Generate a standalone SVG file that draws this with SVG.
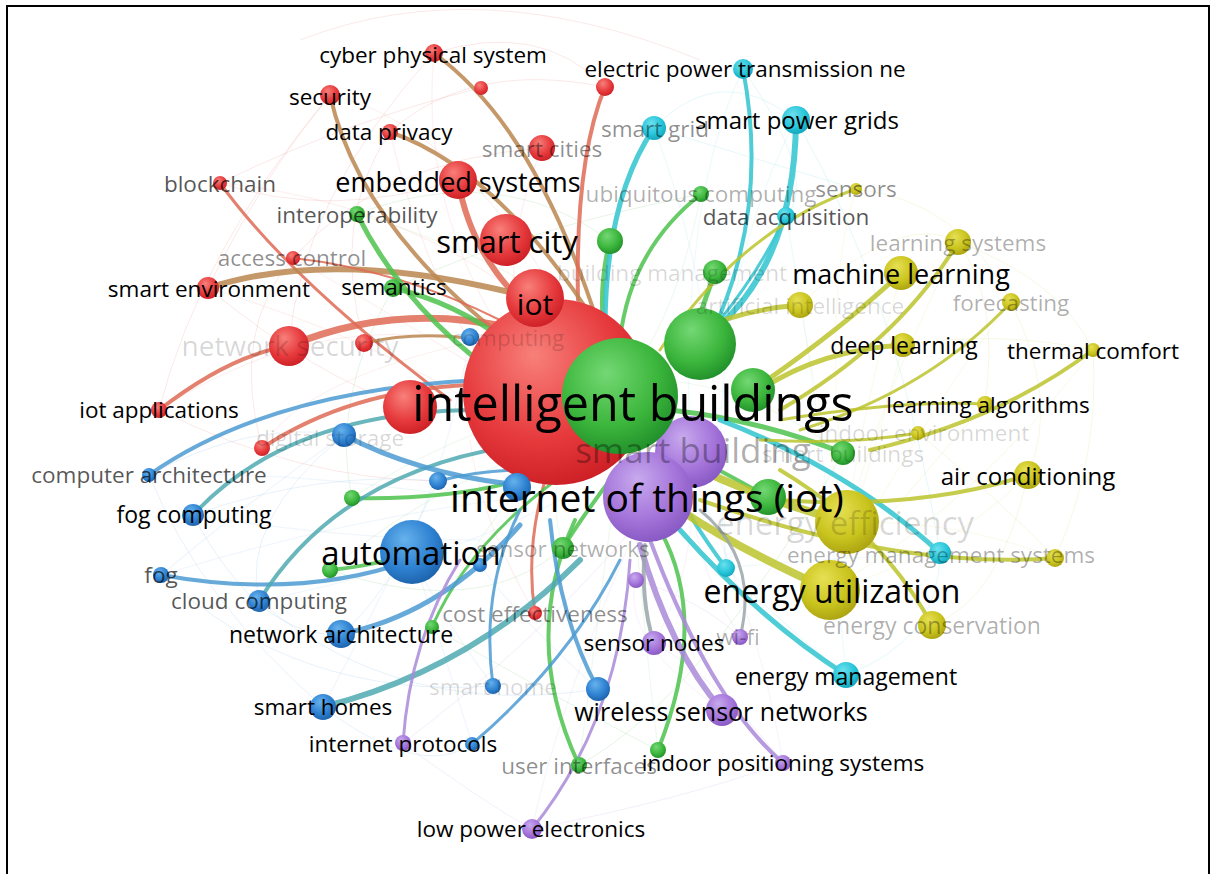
<svg xmlns="http://www.w3.org/2000/svg" width="1212" height="874" viewBox="0 0 1212 874">
<defs>
<radialGradient id="gr" cx=".42" cy=".36" r=".7" fx=".38" fy=".3"><stop offset="0" stop-color="#f8807a"/><stop offset=".6" stop-color="#e63a3d"/><stop offset="1" stop-color="#c81c22"/></radialGradient>
<radialGradient id="gg" cx=".42" cy=".36" r=".7" fx=".38" fy=".3"><stop offset="0" stop-color="#74d874"/><stop offset=".6" stop-color="#3cb63c"/><stop offset="1" stop-color="#1d8a28"/></radialGradient>
<radialGradient id="gb" cx=".42" cy=".36" r=".7" fx=".38" fy=".3"><stop offset="0" stop-color="#66b2ec"/><stop offset=".6" stop-color="#2f82d2"/><stop offset="1" stop-color="#1a5ea6"/></radialGradient>
<radialGradient id="gy" cx=".42" cy=".36" r=".7" fx=".38" fy=".3"><stop offset="0" stop-color="#e6e054"/><stop offset=".6" stop-color="#cac41e"/><stop offset="1" stop-color="#a69e10"/></radialGradient>
<radialGradient id="gp" cx=".42" cy=".36" r=".7" fx=".38" fy=".3"><stop offset="0" stop-color="#c8aaee"/><stop offset=".6" stop-color="#a474da"/><stop offset="1" stop-color="#8454c0"/></radialGradient>
<radialGradient id="gc" cx=".42" cy=".36" r=".7" fx=".38" fy=".3"><stop offset="0" stop-color="#6ce0ee"/><stop offset=".6" stop-color="#28c6da"/><stop offset="1" stop-color="#10a0b6"/></radialGradient>
<style>
.e{fill:none;stroke-linecap:round}
.er{stroke:#de6a55;stroke-opacity:.85}
.eb{stroke:#bb8650;stroke-opacity:.85}
.eg{stroke:#4cc24c;stroke-opacity:.85}
.ec{stroke:#3cc8d2;stroke-opacity:.9}
.ey{stroke:#bcc32c;stroke-opacity:.85}
.eu{stroke:#4c9bd2;stroke-opacity:.85}
.et{stroke:#4fa9b0;stroke-opacity:.85}
.ep{stroke:#a98ad8;stroke-opacity:.85}
.ea{stroke:#9aa6aa;stroke-opacity:.85}
.w{fill:none;stroke-width:1;stroke-opacity:.16}
.v{fill:none;stroke-width:1.2;stroke-opacity:.1}
.wr{stroke:#e87070}.wg{stroke:#60c060}.wb{stroke:#70a8e0}.wy{stroke:#d0d060}.wp{stroke:#b898e0}.wc{stroke:#60d0e0}
.r{fill:url(#gr)}.g{fill:url(#gg)}.b{fill:url(#gb)}.y{fill:url(#gy)}.p{fill:url(#gp)}.c{fill:url(#gc)}
text{font-family:"Open Sans","Noto Sans","DejaVu Sans",sans-serif;font-size:22.5px;text-anchor:middle;dominant-baseline:central;fill:#000}
.t2{fill-opacity:.68}.t3{fill-opacity:.45}.t4{fill-opacity:.32}.t5{fill-opacity:.16}
</style>
</defs>
<rect x="0" y="0" width="1212" height="874" fill="#fff"/>
<g id="web">
<path class="w wr" d="M300,40 Q480,-30 700,60"/>
<path class="w wr" d="M220,183 Q350,120 480,88"/>
<path class="w wr" d="M208,288 Q260,180 330,95"/>
<path class="w wr" d="M159,410 Q200,250 330,95"/>
<path class="w wr" d="M289,346 Q300,200 434,53"/>
<path class="w wr" d="M220,183 Q330,220 458,180"/>
<path class="w wr" d="M293,258 Q380,160 542,148"/>
<path class="w wr" d="M262,448 Q230,330 293,258"/>
<path class="w wr" d="M208,288 Q320,380 410,407"/>
<path class="w wr" d="M390,132 Q470,60 605,87"/>
<path class="w wr" d="M364,343 Q330,220 390,132"/>
<path class="w wr" d="M159,410 Q300,480 438,481"/>
<path class="w wr" d="M434,53 Q540,20 605,87"/>
<path class="w wg" d="M357,214 Q500,160 610,241"/>
<path class="w wg" d="M393,288 Q520,230 701,194"/>
<path class="w wg" d="M352,498 Q330,400 393,288"/>
<path class="w wg" d="M330,570 Q480,620 563,548"/>
<path class="w wg" d="M432,627 Q560,700 658,750"/>
<path class="w wg" d="M579,765 Q700,700 843,453"/>
<path class="w wb" d="M149,475 Q200,600 323,707"/>
<path class="w wb" d="M193,515 Q260,640 341,634"/>
<path class="w wb" d="M161,575 Q300,700 493,686"/>
<path class="w wb" d="M259,601 Q400,720 598,689"/>
<path class="w wb" d="M344,435 Q240,520 259,601"/>
<path class="w wb" d="M149,475 Q250,420 344,435"/>
<path class="w wb" d="M323,707 Q420,780 472,744"/>
<path class="w wb" d="M193,515 Q320,470 438,481"/>
<path class="w wp" d="M403,743 Q480,800 532,829"/>
<path class="w wp" d="M532,829 Q680,800 783,763"/>
<path class="w wp" d="M654,643 Q720,680 783,763"/>
<path class="w wp" d="M636,580 Q700,600 740,637"/>
<path class="w wy" d="M856,189 Q960,200 1011,302"/>
<path class="w wy" d="M958,242 Q1060,280 1093,350"/>
<path class="w wy" d="M1011,302 Q1060,400 1028,475"/>
<path class="w wy" d="M1093,350 Q1100,460 1055,558"/>
<path class="w wy" d="M903,345 Q1000,330 1093,350"/>
<path class="w wy" d="M918,433 Q1000,500 1055,558"/>
<path class="w wy" d="M1028,475 Q1000,600 932,625"/>
<path class="w wy" d="M800,305 Q900,210 958,242"/>
<path class="w wy" d="M985,404 Q1000,300 958,242"/>
<path class="w wc" d="M654,128 Q720,60 796,120"/>
<path class="w wc" d="M743,69 Q820,180 786,216"/>
<path class="w wc" d="M796,120 Q900,300 940,553"/>
<path class="w wc" d="M846,675 Q940,640 940,553"/>
<path class="w wc" d="M654,128 Q760,160 856,189"/>
<path class="w wc" d="M726,568 Q800,640 846,675"/>
<path class="v wr" d="M434,53 Q420,200 500,330"/>
<path class="v wr" d="M330,95 Q450,120 560,300"/>
<path class="v wr" d="M220,183 Q400,200 540,310"/>
<path class="v wr" d="M159,410 Q330,300 500,350"/>
<path class="v wr" d="M262,448 Q300,380 480,340"/>
<path class="v wr" d="M542,148 Q500,250 520,340"/>
<path class="v wr" d="M208,288 Q380,340 500,420"/>
<path class="v wr" d="M293,258 Q420,330 560,420"/>
<path class="v wr" d="M390,132 Q420,260 480,360"/>
<path class="v wr" d="M535,613 Q480,520 470,440"/>
<path class="v wg" d="M357,214 Q520,260 640,360"/>
<path class="v wg" d="M701,194 Q680,300 640,360"/>
<path class="v wg" d="M352,498 Q470,420 600,400"/>
<path class="v wg" d="M330,570 Q450,470 600,430"/>
<path class="v wg" d="M563,548 Q540,470 590,430"/>
<path class="v wg" d="M579,765 Q600,600 620,450"/>
<path class="v wg" d="M658,750 Q640,600 630,450"/>
<path class="v wg" d="M843,453 Q740,380 650,380"/>
<path class="v wg" d="M432,627 Q500,480 600,420"/>
<path class="v wb" d="M149,475 Q300,470 480,500"/>
<path class="v wb" d="M161,575 Q340,520 500,500"/>
<path class="v wb" d="M193,515 Q350,540 480,540"/>
<path class="v wb" d="M259,601 Q420,570 560,500"/>
<path class="v wb" d="M341,634 Q430,560 470,337"/>
<path class="v wb" d="M323,707 Q380,600 438,481"/>
<path class="v wb" d="M493,686 Q430,600 412,552"/>
<path class="v wb" d="M598,689 Q520,620 480,565"/>
<path class="v wb" d="M472,744 Q440,640 412,552"/>
<path class="v wb" d="M161,575 Q250,500 344,435"/>
<path class="v wp" d="M532,829 Q560,700 640,520"/>
<path class="v wp" d="M403,743 Q540,640 640,520"/>
<path class="v wp" d="M783,763 Q760,620 690,470"/>
<path class="v wp" d="M740,637 Q690,560 690,470"/>
<path class="v wp" d="M654,643 Q700,560 690,470"/>
<path class="v wp" d="M722,710 Q620,640 636,580"/>
<path class="v wy" d="M856,189 Q820,300 847,522"/>
<path class="v wy" d="M958,242 Q880,400 847,522"/>
<path class="v wy" d="M1011,302 Q920,420 830,590"/>
<path class="v wy" d="M1093,350 Q980,500 830,590"/>
<path class="v wy" d="M1028,475 Q940,560 830,590"/>
<path class="v wy" d="M1055,558 Q960,520 847,522"/>
<path class="v wy" d="M932,625 Q900,560 847,522"/>
<path class="v wy" d="M901,273 Q860,420 847,522"/>
<path class="v wy" d="M985,404 Q900,500 830,590"/>
<path class="v wy" d="M800,305 Q820,420 847,522"/>
<path class="v wy" d="M903,345 Q870,470 830,590"/>
<path class="v wc" d="M743,69 Q680,200 690,450"/>
<path class="v wc" d="M654,128 Q720,300 726,568"/>
<path class="v wc" d="M786,216 Q820,400 846,675"/>
<path class="v wc" d="M940,553 Q800,560 726,568"/>
<path class="v wc" d="M796,120 Q700,300 726,568"/>
</g>
<g id="connectors">
<path class="e eb" stroke-width="4" d="M434,53 C470,80 540,140 600,330"/>
<path class="e er" stroke-width="4" d="M605,87 Q575,160 578,300"/>
<path class="e eb" stroke-width="4" d="M330,95 Q360,230 520,350"/>
<path class="e eb" stroke-width="4" d="M390,132 Q500,170 600,330"/>
<path class="e er" stroke-width="3" d="M220,183 Q290,280 450,400"/>
<path class="e er" stroke-width="6" d="M458,180 Q470,250 520,300"/>
<path class="e eb" stroke-width="6" d="M208,288 Q340,245 540,300"/>
<path class="e er" stroke-width="2" d="M293,258 Q400,270 500,320"/>
<path class="e er" stroke-width="7" d="M289,346 Q400,300 520,330"/>
<path class="e eb" stroke-width="3" d="M364,343 Q420,330 480,340"/>
<path class="e er" stroke-width="4" d="M159,410 Q230,355 289,346"/>
<path class="e er" stroke-width="4" d="M262,448 Q350,390 470,385"/>
<path class="e er" stroke-width="3" d="M535,613 Q525,550 545,480"/>
<path class="e eg" stroke-width="5" d="M357,214 Q410,320 520,390"/>
<path class="e eg" stroke-width="5" d="M393,288 Q490,310 570,400"/>
<path class="e eg" stroke-width="5" d="M610,241 Q598,290 605,340"/>
<path class="e eg" stroke-width="4" d="M701,194 Q630,250 620,340"/>
<path class="e eg" stroke-width="5" d="M715,272 Q705,300 700,315"/>
<path class="e eg" stroke-width="4" d="M352,498 Q450,500 520,480"/>
<path class="e eg" stroke-width="4" d="M330,570 Q380,565 412,552"/>
<path class="e eg" stroke-width="3" d="M432,627 Q470,540 570,470"/>
<path class="e eg" stroke-width="4" d="M563,548 Q580,520 610,480"/>
<path class="e eg" stroke-width="4" d="M579,765 Q520,640 575,520"/>
<path class="e eg" stroke-width="4" d="M658,750 Q710,620 660,530"/>
<path class="e eg" stroke-width="5" d="M843,453 Q760,420 670,410"/>
<path class="e eg" stroke-width="4" d="M768,497 Q720,470 680,450"/>
<path class="e ec" stroke-width="5" d="M654,128 Q605,200 605,330"/>
<path class="e ec" stroke-width="6" d="M796,120 Q795,260 715,330"/>
<path class="e ec" stroke-width="4" d="M743,69 Q768,200 720,315"/>
<path class="e ec" stroke-width="3" d="M786,216 Q760,270 720,320"/>
<path class="e ec" stroke-width="5" d="M940,553 Q850,470 720,420"/>
<path class="e ec" stroke-width="4" d="M726,568 Q705,540 690,515"/>
<path class="e ec" stroke-width="5" d="M846,675 Q760,620 680,530"/>
<path class="e ey" stroke-width="3" d="M856,189 Q740,230 660,350"/>
<path class="e ey" stroke-width="4" d="M958,242 Q900,340 780,410"/>
<path class="e ey" stroke-width="5" d="M901,273 Q840,330 760,385"/>
<path class="e ey" stroke-width="3" d="M1011,302 Q930,390 800,430"/>
<path class="e ey" stroke-width="5" d="M800,305 Q740,310 700,330"/>
<path class="e ey" stroke-width="5" d="M903,345 Q820,350 760,390"/>
<path class="e ey" stroke-width="4" d="M1093,350 Q1000,420 870,450"/>
<path class="e ey" stroke-width="3" d="M985,404 Q900,400 780,420"/>
<path class="e ey" stroke-width="3" d="M918,433 Q850,445 760,440"/>
<path class="e ey" stroke-width="4" d="M1028,475 Q920,510 780,500"/>
<path class="e ey" stroke-width="4" d="M1055,558 Q900,570 700,500"/>
<path class="e ey" stroke-width="4" d="M932,625 Q880,530 780,470"/>
<path class="e ey" stroke-width="8" d="M847,522 Q760,500 680,460"/>
<path class="e ey" stroke-width="8" d="M830,590 Q740,550 680,510"/>
<path class="e eu" stroke-width="4" d="M149,475 Q270,390 480,380"/>
<path class="e et" stroke-width="4" d="M193,515 Q290,410 480,410"/>
<path class="e eu" stroke-width="4" d="M161,575 Q300,600 412,560"/>
<path class="e et" stroke-width="4" d="M259,601 Q340,470 520,445"/>
<path class="e eu" stroke-width="5" d="M344,435 Q420,475 520,485"/>
<path class="e eu" stroke-width="3" d="M438,481 Q480,470 520,470"/>
<path class="e eu" stroke-width="5" d="M341,634 Q440,615 520,525"/>
<path class="e et" stroke-width="6" d="M323,707 Q470,670 580,560"/>
<path class="e eu" stroke-width="3" d="M493,686 Q480,590 520,510"/>
<path class="e eu" stroke-width="4" d="M598,689 Q560,620 550,520"/>
<path class="e eu" stroke-width="3" d="M472,744 Q570,660 620,560"/>
<path class="e ep" stroke-width="3" d="M532,829 Q620,720 630,560"/>
<path class="e ep" stroke-width="3" d="M403,743 Q410,640 460,560"/>
<path class="e ep" stroke-width="4" d="M783,763 Q710,700 650,540"/>
<path class="e ep" stroke-width="6" d="M722,710 Q670,650 640,545"/>
<path class="e ea" stroke-width="3" d="M740,637 Q760,560 700,510"/>
<path class="e ea" stroke-width="4" d="M654,643 Q640,600 645,545"/>
</g>
<g id="n-iot-big"><circle class="r" cx="556" cy="392" r="93"/></g>
<g id="n-iot"><circle class="r" cx="535" cy="298" r="29"/></g>
<g id="n-green-a"><circle class="g" cx="700" cy="344" r="36"/></g>
<g id="n-green-b"><circle class="g" cx="753" cy="390" r="22"/></g>
<g id="n-smart-building"><circle class="p" cx="691" cy="452" r="36"/></g>
<g id="n-intelligent-buildings"><circle class="g" cx="620" cy="396" r="58"/></g>
<g id="n-internet-of-things"><circle class="p" cx="648" cy="497" r="45"/></g>
<g id="n-green-c"><circle class="g" cx="768" cy="497" r="18"/></g>
<g id="n-blue-a"><circle class="b" cx="517" cy="487" r="14"/></g>
<g id="n-red-a"><circle class="r" cx="410" cy="407" r="27"/></g>
<g id="n-automation"><circle class="b" cx="412" cy="552" r="32"/></g>
<g id="n-energy-efficiency"><circle class="y" cx="847" cy="522" r="32"/></g>
<g id="n-energy-utilization"><circle class="y" cx="830" cy="590" r="30"/></g>
<g id="n-smart-city"><circle class="r" cx="506" cy="240" r="26"/></g>
<g id="n-network-security"><circle class="r" cx="289" cy="346" r="20"/></g>
<g id="n-embedded-systems"><circle class="r" cx="458" cy="180" r="19"/></g>
<g id="n-cyber-physical-system"><circle class="r" cx="434" cy="53" r="9"/></g>
<g id="n-red-b"><circle class="r" cx="481" cy="88" r="7"/></g>
<g id="n-red-c"><circle class="r" cx="605" cy="87" r="9"/></g>
<g id="n-security"><circle class="r" cx="330" cy="95" r="10"/></g>
<g id="n-data-privacy"><circle class="r" cx="390" cy="132" r="8"/></g>
<g id="n-smart-cities"><circle class="r" cx="542" cy="148" r="13"/></g>
<g id="n-blockchain"><circle class="r" cx="220" cy="183" r="7"/></g>
<g id="n-access-control"><circle class="r" cx="293" cy="258" r="7"/></g>
<g id="n-smart-environment"><circle class="r" cx="208" cy="288" r="11"/></g>
<g id="n-red-d"><circle class="r" cx="364" cy="343" r="9"/></g>
<g id="n-iot-applications"><circle class="r" cx="159" cy="410" r="8"/></g>
<g id="n-red-e"><circle class="r" cx="262" cy="448" r="8"/></g>
<g id="n-cost-effectiveness"><circle class="r" cx="535" cy="613" r="7"/></g>
<g id="n-interoperability"><circle class="g" cx="357" cy="214" r="8"/></g>
<g id="n-semantics"><circle class="g" cx="393" cy="288" r="9"/></g>
<g id="n-green-d"><circle class="g" cx="610" cy="241" r="13"/></g>
<g id="n-ubiquitous-computing"><circle class="g" cx="701" cy="194" r="8"/></g>
<g id="n-building-management"><circle class="g" cx="715" cy="272" r="12"/></g>
<g id="n-smart-buildings"><circle class="g" cx="843" cy="453" r="12"/></g>
<g id="n-green-e"><circle class="g" cx="352" cy="498" r="8"/></g>
<g id="n-green-f"><circle class="g" cx="330" cy="570" r="8"/></g>
<g id="n-sensor-networks"><circle class="g" cx="563" cy="548" r="11"/></g>
<g id="n-green-g"><circle class="g" cx="432" cy="627" r="7"/></g>
<g id="n-user-interfaces"><circle class="g" cx="579" cy="765" r="8"/></g>
<g id="n-green-h"><circle class="g" cx="658" cy="750" r="8"/></g>
<g id="n-computing"><circle class="b" cx="470" cy="337" r="9"/></g>
<g id="n-digital-storage"><circle class="b" cx="344" cy="435" r="12"/></g>
<g id="n-blue-b"><circle class="b" cx="438" cy="481" r="9"/></g>
<g id="n-computer-architecture"><circle class="b" cx="149" cy="475" r="7"/></g>
<g id="n-fog-computing"><circle class="b" cx="193" cy="515" r="11"/></g>
<g id="n-blue-c"><circle class="b" cx="480" cy="565" r="7"/></g>
<g id="n-fog"><circle class="b" cx="161" cy="575" r="8"/></g>
<g id="n-cloud-computing"><circle class="b" cx="259" cy="601" r="11"/></g>
<g id="n-network-architecture"><circle class="b" cx="341" cy="634" r="14"/></g>
<g id="n-smart-home"><circle class="b" cx="493" cy="686" r="8"/></g>
<g id="n-blue-d"><circle class="b" cx="598" cy="689" r="12"/></g>
<g id="n-smart-homes"><circle class="b" cx="323" cy="707" r="13"/></g>
<g id="n-blue-e"><circle class="b" cx="472" cy="744" r="7"/></g>
<g id="n-purple-a"><circle class="p" cx="636" cy="580" r="8"/></g>
<g id="n-wi-fi"><circle class="p" cx="740" cy="637" r="8"/></g>
<g id="n-sensor-nodes"><circle class="p" cx="654" cy="643" r="12"/></g>
<g id="n-wireless-sensor-networks"><circle class="p" cx="722" cy="710" r="16"/></g>
<g id="n-indoor-positioning-systems"><circle class="p" cx="783" cy="763" r="8"/></g>
<g id="n-internet-protocols"><circle class="p" cx="403" cy="743" r="8"/></g>
<g id="n-low-power-electronics"><circle class="p" cx="532" cy="829" r="10"/></g>
<g id="n-sensors"><circle class="y" cx="856" cy="189" r="6"/></g>
<g id="n-learning-systems"><circle class="y" cx="958" cy="242" r="13"/></g>
<g id="n-machine-learning"><circle class="y" cx="901" cy="273" r="17"/></g>
<g id="n-forecasting"><circle class="y" cx="1011" cy="302" r="9"/></g>
<g id="n-artificial-intelligence"><circle class="y" cx="800" cy="305" r="13"/></g>
<g id="n-deep-learning"><circle class="y" cx="903" cy="345" r="12"/></g>
<g id="n-thermal-comfort"><circle class="y" cx="1093" cy="350" r="7"/></g>
<g id="n-learning-algorithms"><circle class="y" cx="985" cy="404" r="8"/></g>
<g id="n-indoor-environment"><circle class="y" cx="918" cy="433" r="7"/></g>
<g id="n-air-conditioning"><circle class="y" cx="1028" cy="475" r="14"/></g>
<g id="n-yellow-a"><circle class="y" cx="1055" cy="558" r="9"/></g>
<g id="n-energy-conservation"><circle class="y" cx="932" cy="625" r="14"/></g>
<g id="n-electric-power"><circle class="c" cx="743" cy="69" r="10"/></g>
<g id="n-smart-power-grids"><circle class="c" cx="796" cy="120" r="14"/></g>
<g id="n-smart-grid"><circle class="c" cx="654" cy="128" r="12"/></g>
<g id="n-data-acquisition"><circle class="c" cx="786" cy="216" r="9"/></g>
<g id="n-energy-management-systems"><circle class="c" cx="940" cy="553" r="11"/></g>
<g id="n-cyan-a"><circle class="c" cx="726" cy="568" r="9"/></g>
<g id="n-energy-management"><circle class="c" cx="846" cy="675" r="13"/></g>
<g id="labels">
<text x="433" y="54">cyber physical system</text>
<text x="330" y="96">security</text>
<text x="389" y="131">data privacy</text>
<text class="t3" x="542" y="148">smart cities</text>
<text class="t2" x="220" y="183">blockchain</text>
<text x="458" y="181" style="font-size:27px">embedded systems</text>
<text x="745" y="68">electric power transmission ne</text>
<text class="t3" x="655" y="128">smart grid</text>
<text x="797" y="119" style="font-size:24px">smart power grids</text>
<text class="t4" x="701" y="193">ubiquitous computing</text>
<text class="t3" x="856" y="188">sensors</text>
<text class="t2" x="786" y="216">data acquisition</text>
<text class="t2" x="357" y="214">interoperability</text>
<text class="t4" x="958" y="242">learning systems</text>
<text x="507" y="241" style="font-size:31px">smart city</text>
<text class="t3" x="292" y="257">access control</text>
<text class="t5" x="672" y="272">building management</text>
<text x="901" y="273" style="font-size:27px">machine learning</text>
<text x="209" y="288">smart environment</text>
<text x="394" y="286">semantics</text>
<text x="535" y="303" style="font-size:30px">iot</text>
<text class="t4" x="1011" y="302">forecasting</text>
<text class="t5" x="800" y="305">artificial intelligence</text>
<text class="t5" x="290" y="345" style="font-size:28px">network security</text>
<text class="t5" x="508" y="337">computing</text>
<text x="904" y="345" style="font-size:23px">deep learning</text>
<text x="1093" y="350">thermal comfort</text>
<text x="633" y="402" style="font-size:48.5px">intelligent buildings</text>
<text x="988" y="404">learning algorithms</text>
<text x="159" y="409">iot applications</text>
<text class="t5" x="924" y="432">indoor environment</text>
<text class="t5" x="330" y="437">digital storage</text>
<text class="t4" x="693" y="449" style="font-size:35px">smart building</text>
<text class="t5" x="843" y="453">smart buildings</text>
<text class="t2" x="149" y="474">computer architecture</text>
<text x="1028" y="475" style="font-size:24px">air conditioning</text>
<text x="647" y="496" style="font-size:39px">internet of things (iot)</text>
<text x="194" y="514" style="font-size:23px">fog computing</text>
<text class="t5" x="845" y="522" style="font-size:33px">energy efficiency</text>
<text x="411" y="552" style="font-size:33px">automation</text>
<text class="t4" x="563" y="548">sensor networks</text>
<text class="t4" x="941" y="554">energy management systems</text>
<text class="t2" x="161" y="574">fog</text>
<text x="832" y="590" style="font-size:32px">energy utilization</text>
<text class="t2" x="259" y="600">cloud computing</text>
<text class="t3" x="535" y="613">cost effectiveness</text>
<text class="t4" x="932" y="625" style="font-size:23px">energy conservation</text>
<text x="341" y="634" style="font-size:23px">network architecture</text>
<text x="654" y="642">sensor nodes</text>
<text class="t4" x="738" y="636">wi-fi</text>
<text x="846" y="676" style="font-size:23px">energy management</text>
<text class="t5" x="493" y="686">smart home</text>
<text x="323" y="706">smart homes</text>
<text x="721" y="711" style="font-size:25px">wireless sensor networks</text>
<text x="403" y="743">internet protocols</text>
<text class="t3" x="579" y="765">user interfaces</text>
<text x="783" y="762">indoor positioning systems</text>
<text x="531" y="828">low power electronics</text>
</g>
<rect x="7" y="6" width="1202" height="890" fill="none" stroke="#000" stroke-width="2"/>
</svg>
